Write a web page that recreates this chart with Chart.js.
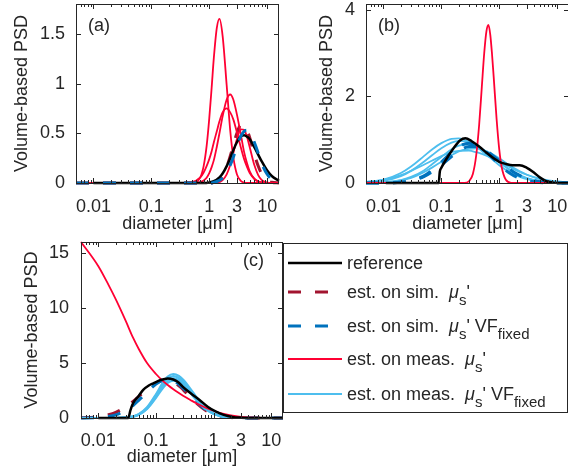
<!DOCTYPE html>
<html>
<head>
<meta charset="utf-8">
<script src="https://cdn.jsdelivr.net/npm/chart.js@4.4.0/dist/chart.umd.min.js"></script>
<style>
  body { margin: 0; width: 568px; height: 473px; overflow: hidden; background: #fff; position: relative;
         font-family: "Liberation Sans", Arial, sans-serif; color: #262626; }
  canvas { position: absolute; }
  .tag { position: absolute; font-size: 18px; line-height: 22px; }
  #legend { position: absolute; left: 283px; top: 243px; width: 285px; height: 170px;
            border: 1px solid #262626; box-sizing: border-box; background: #fff; }
  .row { position: absolute; left: 0; width: 100%; height: 0; }
  .row svg { position: absolute; left: 4px; top: -4px; }
  .row .txt { position: absolute; left: 63px; top: -11px; font-size: 18px; line-height: 22px; white-space: nowrap; }
  .mu { font-style: italic; margin-left: 10px; }
  .sub { position: relative; top: 7px; font-size: 15px; }
</style>
</head>
<body>
<canvas id="chartA" width="285" height="235" style="left:0;top:0"></canvas>
<canvas id="chartB" width="290" height="235" style="left:285px;top:0"></canvas>
<canvas id="chartC" width="285" height="232" style="left:0;top:236px"></canvas>
<div class="tag" style="left:88px;top:14px">(a)</div>
<div class="tag" style="left:378px;top:14px">(b)</div>
<div class="tag" style="left:243px;top:249px">(c)</div>

<div id="legend">
  <div class="row" style="top:19px">
    <svg width="56" height="8"><line x1="0" y1="4" x2="54" y2="4" stroke="#000" stroke-width="2.5"/></svg>
    <div class="txt">reference</div>
  </div>
  <div class="row" style="top:48px">
    <svg width="56" height="8"><line x1="0" y1="4" x2="54" y2="4" stroke="#A2142F" stroke-width="3" stroke-dasharray="13 14"/></svg>
    <div class="txt">est. on sim.<span class="mu">μ</span><span class="sub">s</span>'</div>
  </div>
  <div class="row" style="top:82px">
    <svg width="56" height="8"><line x1="0" y1="4" x2="54" y2="4" stroke="#0072BD" stroke-width="3" stroke-dasharray="13 14"/></svg>
    <div class="txt">est. on sim.<span class="mu">μ</span><span class="sub">s</span>' VF<span class="sub">fixed</span></div>
  </div>
  <div class="row" style="top:115px">
    <svg width="56" height="8"><line x1="0" y1="4" x2="54" y2="4" stroke="#FF0033" stroke-width="1.8"/></svg>
    <div class="txt">est. on meas.<span class="mu">μ</span><span class="sub">s</span>'</div>
  </div>
  <div class="row" style="top:150px">
    <svg width="56" height="8"><line x1="0" y1="4" x2="54" y2="4" stroke="#4DBEEE" stroke-width="1.8"/></svg>
    <div class="txt">est. on meas.<span class="mu">μ</span><span class="sub">s</span>' VF<span class="sub">fixed</span></div>
  </div>
</div>

<script>
// Achse (gemeinsam)
const xMin = 0.005, xMax = 16;
const xTickVals = [0.01, 0.1, 1, 3, 10];
const xTickLabels = ['0.01', '0.1', '1', '3', '10'];

// ---- Panel (a) ----
const yTicksA = [0, 0.5, 1, 1.5];
const dA = [0.005, 0.3, 0.5, 0.7, 0.8, 0.9, 1, 1.1, 1.2, 1.35, 1.5, 1.7, 2, 2.3, 2.6, 3, 3.5, 4, 4.5, 5, 6, 7, 8, 10, 12, 16];
const measA1 = [0, 0, 0, 0.057, 0.17, 0.37, 0.65, 0.96, 1.26, 1.56, 1.65, 1.48, 0.98, 0.53, 0.26, 0.088, 0.021, 0.005, 0, 0, 0, 0, 0, 0, 0, 0];
const measA2 = [0, 0, 0, 0.01, 0.025, 0.053, 0.1, 0.16, 0.23, 0.365, 0.5, 0.67, 0.84, 0.89, 0.84, 0.69, 0.49, 0.31, 0.196, 0.118, 0.041, 0.014, 0.005, 0, 0, 0];
const measA3 = [0, 0, 0.008, 0.056, 0.105, 0.17, 0.24, 0.32, 0.41, 0.52, 0.62, 0.71, 0.75, 0.71, 0.64, 0.51, 0.36, 0.24, 0.16, 0.1, 0.043, 0.018, 0.008, 0, 0, 0];
const measA4 = [0, 0, 0, 0, 0, 0, 0, 0, 0, 0.002, 0.01, 0.029, 0.087, 0.18, 0.3, 0.44, 0.54, 0.535, 0.46, 0.36, 0.18, 0.08, 0.032, 0.005, 0, 0];
const simA = [0, 0, 0, 0, 0, 0, 0, 0, 0.008, 0.02, 0.037, 0.074, 0.16, 0.27, 0.38, 0.5, 0.58, 0.58, 0.53, 0.455, 0.29, 0.17, 0.093, 0.027, 0.007, 0];
const simVfA = [0, 0, 0, 0, 0, 0, 0, 0, 0.007, 0.015, 0.027, 0.05, 0.11, 0.18, 0.26, 0.37, 0.47, 0.52, 0.53, 0.505, 0.41, 0.3, 0.2, 0.088, 0.037, 0.006];
const dRefA = [0.01, 0.8, 1, 1.2, 1.5, 1.7, 2, 2.3, 2.6, 3, 3.5, 4, 4.5, 5, 6, 7, 8, 10, 12, 16];
const refA = [0, 0, 0.006, 0.018, 0.057, 0.095, 0.17, 0.25, 0.33, 0.41, 0.47, 0.48, 0.465, 0.44, 0.36, 0.285, 0.22, 0.125, 0.07, 0.023];

// ---- Panel (b) ----
const yTicksB = [0, 2, 4];
const dB = [0.005, 0.01, 0.02, 0.03, 0.05, 0.07, 0.1, 0.15, 0.2, 0.3, 0.4, 0.5, 0.7, 1, 1.5, 2, 3, 5, 7, 10, 16];
const measVfB1 = [0.019, 0.076, 0.23, 0.38, 0.62, 0.78, 0.92, 1.02, 1.03, 0.95, 0.84, 0.74, 0.58, 0.41, 0.25, 0.17, 0.087, 0.033, 0.015, 0.007, 0.002];
const measVfB2 = [0.011, 0.049, 0.16, 0.28, 0.49, 0.645, 0.8, 0.93, 0.97, 0.94, 0.87, 0.79, 0.64, 0.47, 0.31, 0.21, 0.115, 0.046, 0.023, 0.01, 0.003];
const measVfB3 = [0.002, 0.014, 0.065, 0.14, 0.29, 0.44, 0.6, 0.78, 0.86, 0.9, 0.86, 0.79, 0.66, 0.49, 0.31, 0.21, 0.108, 0.04, 0.018, 0.007, 0.002];
const measVfB4 = [0.003, 0.016, 0.062, 0.12, 0.25, 0.36, 0.49, 0.64, 0.73, 0.79, 0.8, 0.77, 0.69, 0.57, 0.41, 0.31, 0.19, 0.088, 0.049, 0.024, 0.008];
const measVfB5 = [0.025, 0.074, 0.18, 0.28, 0.42, 0.52, 0.62, 0.71, 0.74, 0.745, 0.71, 0.67, 0.59, 0.49, 0.37, 0.285, 0.19, 0.1, 0.062, 0.036, 0.016];
const simVfB1 = [0, 0.002, 0.018, 0.054, 0.166, 0.3, 0.48, 0.71, 0.84, 0.92, 0.88, 0.8, 0.63, 0.42, 0.23, 0.135, 0.054, 0.013, 0.004, 0, 0];
const simVfB2 = [0, 0.002, 0.019, 0.051, 0.146, 0.26, 0.41, 0.61, 0.73, 0.84, 0.84, 0.8, 0.68, 0.51, 0.32, 0.21, 0.1, 0.032, 0.013, 0.004, 0];
const dMeasB = [0.005, 0.25, 0.3, 0.35, 0.4, 0.45, 0.5, 0.55, 0.6, 0.65, 0.7, 0.75, 0.8, 0.9, 1.0, 1.1, 1.3, 1.6, 16];
const measB = [0, 0, 0.04, 0.21, 0.64, 1.35, 2.22, 3.0, 3.5, 3.65, 3.42, 2.97, 2.46, 1.47, 0.77, 0.37, 0.073, 0.005, 0];
const dRefB = [0.011, 0.09, 0.094, 0.1, 0.123, 0.16, 0.21, 0.26, 0.33, 0.46, 0.6, 0.8, 1.0, 1.3, 1.7, 2.25, 3, 3.8, 5, 6.5, 8.5, 10, 16];
const refB = [0, 0, 0.26, 0.35, 0.56, 0.79, 0.98, 1.03, 0.97, 0.83, 0.7, 0.57, 0.49, 0.44, 0.41, 0.41, 0.35, 0.26, 0.13, 0.04, 0.01, 0, 0];

// ---- Panel (c) ----
const yTicksC = [0, 5, 10, 15];
const dC = [0.005, 0.01, 0.015, 0.02, 0.03, 0.04, 0.05, 0.07, 0.1, 0.13, 0.16, 0.2, 0.25, 0.3, 0.4, 0.5, 0.7, 1, 1.5, 2, 3, 5, 16];
const measC = [16, 13.8, 12.1, 10.8, 8.8, 7.3, 6.3, 5.0, 4.0, 3.4, 3.0, 2.62, 2.27, 2.0, 1.62, 1.34, 0.98, 0.66, 0.38, 0.24, 0.11, 0.03, 0];
const simC = [0.015, 0.11, 0.29, 0.51, 1.02, 1.51, 1.95, 2.62, 3.18, 3.41, 3.45, 3.28, 2.93, 2.54, 1.87, 1.36, 0.75, 0.34, 0.11, 0.045, 0, 0, 0];
const simVfC = [0.003, 0.04, 0.13, 0.28, 0.69, 1.14, 1.6, 2.36, 3.09, 3.42, 3.5, 3.38, 3.06, 2.68, 2.0, 1.48, 0.83, 0.38, 0.13, 0.05, 0.005, 0, 0];
const measVfC1 = [0, 0, 0, 0, 0.04, 0.14, 0.34, 0.97, 2.16, 3.16, 3.76, 4.0, 3.83, 3.46, 2.63, 1.92, 1.02, 0.42, 0.12, 0.04, 0.01, 0, 0];
const measVfC2 = [0, 0, 0, 0, 0.036, 0.13, 0.32, 0.92, 2.05, 3.0, 3.57, 3.8, 3.64, 3.29, 2.5, 1.83, 0.97, 0.4, 0.11, 0.04, 0.01, 0, 0];
const measVfC3 = [0, 0, 0, 0, 0.035, 0.126, 0.3, 0.87, 1.94, 2.84, 3.38, 3.6, 3.45, 3.12, 2.37, 1.73, 0.92, 0.38, 0.11, 0.036, 0.007, 0, 0];
const measVfC4 = [0, 0, 0, 0, 0.033, 0.12, 0.29, 0.82, 1.84, 2.68, 3.19, 3.4, 3.25, 2.94, 2.24, 1.64, 0.87, 0.36, 0.1, 0.034, 0.007, 0, 0];
const dRefC = [0.01, 0.033, 0.036, 0.04, 0.05, 0.06, 0.075, 0.09, 0.12, 0.16, 0.2, 0.25, 0.29, 0.4, 0.57, 0.8, 1.1, 1.5, 2.1, 3, 5, 16];
const refC = [0, 0, 0.7, 1.34, 2.0, 2.55, 2.95, 3.15, 3.45, 3.6, 3.5, 3.2, 2.85, 2.25, 1.64, 1.0, 0.57, 0.28, 0.1, 0.03, 0, 0];

// Farben
const cRef = '#000000', cSim = '#A2142F', cSimVf = '#0072BD', cMeas = '#FF0033', cMeasVf = '#4DBEEE';
const textColor = '#262626';
const font18 = { family: '"Liberation Sans", Arial, sans-serif', size: 18 };

function pts(d, v) {
    return d.map((x, i) => ({ x: x, y: v[i] }));
}

function line(d, v, color, width, dashed) {
    return {
        data: pts(d, v),
        borderColor: color,
        borderWidth: width,
        borderDash: dashed ? [13, 14] : [],
        pointRadius: 0,
        fill: false,
        clip: 3,
        cubicInterpolationMode: 'monotone'
    };
}

// Rahmen mit Ticks nach innen (Matlab-Stil)
const frame = {
    id: 'frame',
    afterDatasetsDraw(chart) {
        const { ctx, chartArea: a, scales: { x, y } } = chart;
        ctx.save();
        ctx.strokeStyle = textColor;
        ctx.lineWidth = 1;
        ctx.strokeRect(Math.round(a.left) + 0.5, Math.round(a.top) + 0.5,
                       Math.round(a.right - a.left) - 1, Math.round(a.bottom - a.top));
        ctx.beginPath();
        for (let e = -3; e <= 1; e++) {
            for (let k = 1; k <= 9; k++) {
                const v = k * Math.pow(10, e);
                if (v < x.min || v > x.max) continue;
                const px = Math.round(x.getPixelForValue(v)) + 0.5;
                const len = xTickVals.some(t => Math.abs(t - v) < 1e-9) ? 5 : 3;
                ctx.moveTo(px, a.bottom); ctx.lineTo(px, a.bottom - len);
                ctx.moveTo(px, a.top); ctx.lineTo(px, a.top + len);
            }
        }
        y.ticks.forEach(t => {
            const py = Math.round(y.getPixelForValue(t.value)) + 0.5;
            ctx.moveTo(a.left, py); ctx.lineTo(a.left + 5, py);
            ctx.moveTo(a.right, py); ctx.lineTo(a.right - 5, py);
        });
        ctx.stroke();
        ctx.restore();
    }
};

function makeChart(id, datasets, yMax, yTicks, opt) {
    return new Chart(document.getElementById(id), {
        type: 'line',
        data: { datasets: datasets },
        options: {
            responsive: false,
            animation: false,
            events: [],
            layout: { padding: opt.padding },
            plugins: { legend: { display: false }, tooltip: { enabled: false } },
            scales: {
                x: {
                    type: 'logarithmic',
                    min: xMin,
                    max: xMax,
                    afterBuildTicks: s => { s.ticks = xTickVals.map(v => ({ value: v })); },
                    afterFit: s => { s.height = opt.xHeight; s.paddingLeft = 0; s.paddingRight = 0; },
                    grid: { display: false, drawTicks: false },
                    border: { display: false },
                    ticks: {
                        autoSkip: false, maxRotation: 0, minRotation: 0,
                        padding: opt.xPad, color: textColor, font: font18,
                        callback: (v, i) => xTickLabels[i]
                    },
                    title: { display: true, text: 'diameter [μm]', color: textColor, font: font18,
                             padding: { top: 0, bottom: 0 } }
                },
                y: {
                    min: 0,
                    max: yMax,
                    afterBuildTicks: s => { s.ticks = yTicks.map(v => ({ value: v })); },
                    afterFit: s => { s.width = opt.yWidth; s.paddingTop = 0; s.paddingBottom = 0; },
                    grid: { display: false, drawTicks: false },
                    border: { display: false },
                    ticks: { padding: opt.yPad, color: textColor, font: font18, callback: v => String(v) },
                    title: { display: true, text: 'Volume-based PSD', color: textColor, font: font18,
                             padding: { top: opt.titlePad, bottom: 0 } }
                }
            }
        },
        plugins: [frame]
    });
}

// Panel (a): erste Datensaetze liegen oben; die blaue Strichlinie liegt hier ueber der Referenz
makeChart('chartA', [
    line(dA, simVfA, cSimVf, 3, true),
    line(dRefA, refA, cRef, 2.5),
    line(dA, measA1, cMeas, 1.8),
    line(dA, measA2, cMeas, 1.8),
    line(dA, measA3, cMeas, 1.8),
    line(dA, measA4, cMeas, 1.8),
    line(dA, simA, cSim, 3, true)
], 1.8, yTicksA, { padding: { left: 0, top: 4, right: 6, bottom: 0 }, xHeight: 52, yWidth: 76, xPad: 13, yPad: 11, titlePad: 11 });

makeChart('chartB', [
    line(dRefB, refB, cRef, 2.5),
    line(dMeasB, measB, cMeas, 1.8),
    line(dB, simVfB1, cSimVf, 3, true),
    line(dB, simVfB2, cSimVf, 3, true),
    line(dB, measVfB1, cMeasVf, 1.8),
    line(dB, measVfB2, cMeasVf, 1.8),
    line(dB, measVfB3, cMeasVf, 1.8),
    line(dB, measVfB4, cMeasVf, 1.8),
    line(dB, measVfB5, cMeasVf, 1.8)
], 4.13, yTicksB, { padding: { left: 0, top: 4, right: 6, bottom: 0 }, xHeight: 52, yWidth: 81, xPad: 13, yPad: 11, titlePad: 31 });

makeChart('chartC', [
    line(dRefC, refC, cRef, 2.5),
    line(dC, measC, cMeas, 1.8),
    line(dC, measVfC1, cMeasVf, 2.2),
    line(dC, measVfC2, cMeasVf, 2.2),
    line(dC, measVfC3, cMeasVf, 2.2),
    line(dC, measVfC4, cMeasVf, 2.2),
    line(dC, simVfC, cSimVf, 3, true),
    line(dC, simC, cSim, 3, true)
], 16, yTicksC, { padding: { left: 0, top: 6, right: 2, bottom: 0 }, xHeight: 50, yWidth: 81, xPad: 12, yPad: 12, titlePad: 21 });
</script>
</body>
</html>
